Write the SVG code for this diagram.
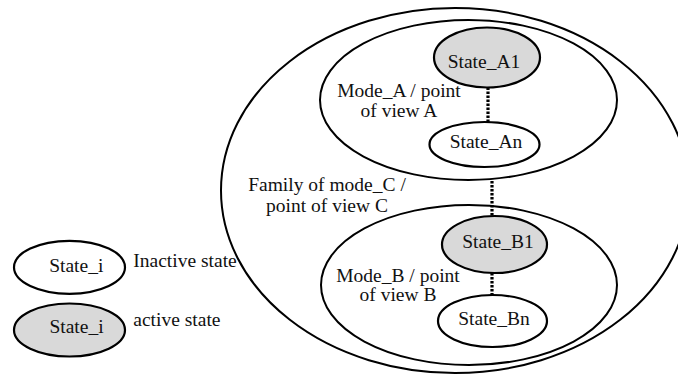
<svg xmlns="http://www.w3.org/2000/svg" width="678" height="374" viewBox="0 0 678 374">
<style>
  .frame { fill: none; stroke: #000; stroke-width: 2; }
  .state { fill: #fff; stroke: #000; stroke-width: 2.2; }
  .active { fill: #d9d9d9; }
  .dots { stroke: #000; stroke-width: 3.2; stroke-dasharray: 2.6 1.4; fill: none; }
  text { font-family: "Liberation Serif", "Times New Roman", serif; font-size: 19.5px; fill: #111; }
  .c { text-anchor: middle; }
</style>
<rect width="678" height="374" fill="#fff"/>
<g id="family_C">
  <ellipse class="frame" cx="455" cy="190.5" rx="234" ry="182.5"/>
  <text class="c" x="327" y="190.7">Family of mode_C /</text>
  <text class="c" x="327" y="211.7">point of view C</text>
</g>
<g id="mode_A">
  <ellipse class="frame" cx="468.5" cy="100" rx="148.5" ry="80"/>
  <text class="c" x="399" y="96.7">Mode_A / point</text>
  <text class="c" x="399" y="116.7">of view A</text>
</g>
<g id="mode_B">
  <ellipse class="frame" cx="469" cy="285" rx="148" ry="80"/>
  <text class="c" x="398" y="281.7">Mode_B / point</text>
  <text class="c" x="398" y="300.7">of view B</text>
</g>
<g id="connectors">
  <line class="dots" x1="488" y1="87.5" x2="488" y2="122"/>
  <line class="dots" x1="492" y1="181" x2="492" y2="216"/>
  <line class="dots" x1="492" y1="273" x2="492" y2="295"/>
</g>
<g id="state_A1">
  <ellipse class="state active" cx="487" cy="57.5" rx="53" ry="30"/>
  <text class="c" x="484" y="68.3">State_A1</text>
</g>
<g id="state_An">
  <ellipse class="state" cx="484.5" cy="144.5" rx="55" ry="22.5"/>
  <text class="c" x="486" y="148.3">State_An</text>
</g>
<g id="state_B1">
  <ellipse class="state active" cx="494.5" cy="244.5" rx="52.5" ry="28.5"/>
  <text class="c" x="498" y="248.3">State_B1</text>
</g>
<g id="state_Bn">
  <ellipse class="state" cx="492.5" cy="321" rx="54.5" ry="26"/>
  <text class="c" x="494" y="325">State_Bn</text>
</g>
<g id="legend_inactive">
  <ellipse class="state" cx="69.5" cy="267.3" rx="55.5" ry="26.5"/>
  <text class="c" x="76.3" y="272.3">State_i</text>
  <text x="133.3" y="266.7">Inactive state</text>
</g>
<g id="legend_active">
  <ellipse class="state active" cx="69.5" cy="330" rx="55.5" ry="26.5"/>
  <text class="c" x="76.5" y="333.3">State_i</text>
  <text x="133.3" y="326">active state</text>
</g>
</svg>
